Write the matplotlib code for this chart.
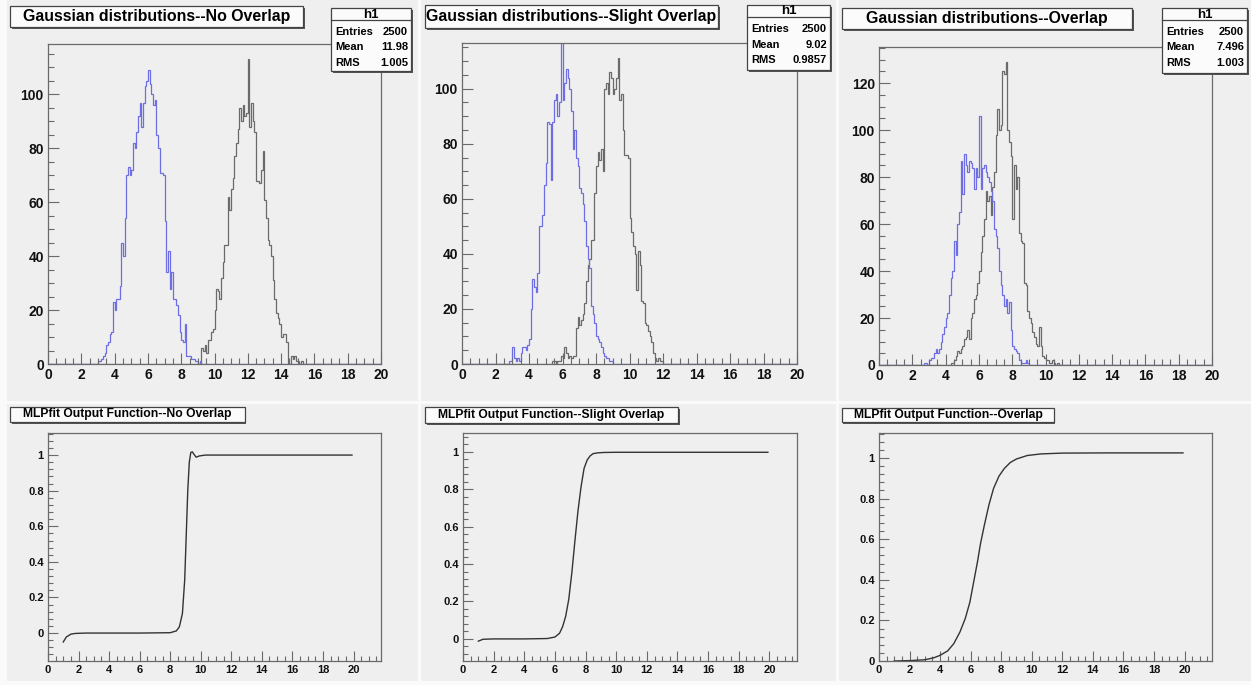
import numpy as np
import matplotlib
matplotlib.use('Agg')
import matplotlib.pyplot as plt
import matplotlib.patches as patches
from matplotlib.ticker import MultipleLocator, FuncFormatter

plt.rcParams.update({
    'font.family': ['Liberation Sans', 'DejaVu Sans'],
    'font.weight': 'bold',
})

W, H = 1251, 685
PAD = '#efefef'
BLUE = '#6d6de4'
GRAY = '#6a6a6a'
FRAME = '#6a6a6a'

# ── histogram counts, bin width 0.1 on [0, 20]; each list starts at *_start ──
no_blue_start = 3.0
no_blue = [1, 1, 2, 3, 4, 7, 8, 11, 12, 23,
           20, 24, 24, 29, 45, 40, 54, 70, 73, 70,
           72, 82, 80, 86, 92, 97, 88, 97, 103, 105,
           109, 104, 100, 96, 98, 85, 80, 71, 71, 70,
           53, 34, 42, 28, 34, 24, 24, 22, 18, 12,
           9, 8, 15, 3, 3, 3, 2, 2, 1, 1,
           0, 1]
no_gray_start = 9.2
no_gray = [6, 5, 7, 4, 9, 9, 12, 13,
           20, 28, 27, 24, 32, 38, 44, 44, 62, 57,
           65, 69, 77, 82, 87, 95, 90, 96, 92, 93,
           113, 88, 97, 90, 86, 68, 68, 67, 72, 79,
           61, 54, 46, 44, 40, 31, 24, 19, 17, 15,
           10, 11, 11, 8, 0, 0, 3, 2, 3, 1,
           1, 0, 1]

sl_blue_start = 2.8
sl_blue = [1, 1,
           6, 2, 1, 2, 1, 4, 6, 6, 5, 7,
           9, 20, 31, 28, 26, 33, 50, 50, 54, 65,
           73, 88, 87, 67, 88, 96, 98, 90, 95, 118,
           96, 102, 107, 104, 100, 92, 78, 85, 75, 72,
           64, 62, 58, 52, 43, 38, 35, 21, 18, 15,
           10, 9, 8, 6, 4, 3, 2, 2, 1, 1]
sl_gray_start = 5.4
sl_gray = [1, 1, 0, 1, 1, 3,
           2, 6, 4, 2, 3, 2, 3, 3, 13, 17,
           14, 16, 18, 22, 30, 36, 38, 45, 45, 62,
           72, 77, 74, 78, 70, 100, 102, 98, 106, 104,
           98, 100, 104, 111, 96, 98, 85, 76, 76, 75,
           53, 48, 43, 40, 27, 41, 36, 23, 22, 15,
           14, 12, 10, 8, 4, 2, 1, 2, 1, 1]

ov_blue_start = 2.7
ov_blue = [1, 1, 0,
           2, 3, 3, 5, 7, 5, 7, 10, 13, 16,
           20, 22, 30, 37, 40, 53, 47, 60, 65, 87,
           73, 90, 85, 82, 87, 86, 84, 75, 84, 80,
           106, 75, 84, 85, 82, 80, 78, 74, 70, 58,
           55, 50, 40, 34, 30, 25, 28, 22, 27, 15,
           8, 7, 6, 5, 2, 1, 1, 1, 2, 1]
ov_gray_start = 4.3
ov_gray = [1, 1, 2, 4, 6, 5, 7,
           8, 11, 12, 15, 11, 20, 22, 28, 30, 35,
           40, 48, 55, 62, 74, 70, 72, 64, 76, 82,
           98, 109, 100, 102, 125, 124, 129, 100, 95, 89,
           62, 85, 75, 80, 56, 53, 52, 35, 34, 23,
           20, 18, 14, 12, 9, 8, 16, 8, 4, 3,
           2, 2, 1, 1, 2, 1, 0, 1]

# stats box of h1 (the gray histogram)
stats = [("2500", "11.98", "1.005"),
         ("2500", "9.02", "0.9857"),
         ("2500", "7.496", "1.003")]

top_titles = ["Gaussian distributions--No Overlap",
              "Gaussian distributions--Slight Overlap",
              "Gaussian distributions--Overlap"]
bot_titles = ["MLPfit Output Function--No Overlap",
              "MLPfit Output Function--Slight Overlap",
              "MLPfit Output Function--Overlap"]

# ── MLPfit output curves ────────────────────────────────────────────────────
no_fx = [1.0, 1.2, 1.5, 1.8, 2.5, 4, 6, 8.0, 8.4, 8.6, 8.8, 8.95, 9.05, 9.15,
         9.25, 9.35, 9.45, 9.55, 9.7, 9.9, 10.3, 12, 16, 19.9]
no_fy = [-0.05, -0.022, -0.006, -0.002, 0, 0, 0, 0.002, 0.012, 0.035, 0.11,
         0.30, 0.55, 0.80, 0.96, 1.015, 1.018, 1.005, 0.988, 0.995, 1.0, 1.0,
         1.0, 1.0]
sl_fx = [1.0, 1.3, 2, 4, 5.5, 6.0, 6.3, 6.5, 6.7, 6.9, 7.1, 7.3, 7.5, 7.7,
         7.9, 8.1, 8.3, 8.5, 8.8, 9.2, 10, 14, 19.9]
sl_fy = [-0.012, -0.002, 0, 0, 0.002, 0.01, 0.03, 0.065, 0.12, 0.21, 0.35,
         0.52, 0.68, 0.81, 0.91, 0.955, 0.978, 0.99, 0.994, 0.996, 0.997,
         0.997, 0.997]
ov_fx = [1.0, 2.0, 3.0, 3.6, 4.0, 4.5, 4.9, 5.3, 5.65, 5.95, 6.2, 6.45, 6.65,
         6.9, 7.2, 7.5, 7.85, 8.2, 8.6, 9.0, 9.7, 10.6, 12.0, 15, 19.9]
ov_fy = [0.0, 0.002, 0.006, 0.016, 0.028, 0.05, 0.086, 0.143, 0.21, 0.29,
         0.39, 0.49, 0.58, 0.67, 0.77, 0.85, 0.91, 0.948, 0.978, 0.995, 1.012,
         1.02, 1.024, 1.025, 1.025]

edges = np.linspace(0, 20, 201)


def full(start, vals):
    c = np.zeros(200)
    i0 = int(round(start * 10))
    c[i0:i0 + len(vals)] = vals
    return c


fig = plt.figure(figsize=(W / 100, H / 100), dpi=100)
fig.patch.set_facecolor('#fafafa')


def fbox(l, t, r, b):
    return (l / W, 1 - b / H, (r - l) / W, (b - t) / H)


def rect(l, t, r, b, **kw):
    x, y, w, h = fbox(l, t, r, b)
    fig.add_artist(patches.Rectangle((x, y), w, h, transform=fig.transFigure, **kw))


def px_axes(l, t, r, b):
    ax = fig.add_axes(fbox(l, t, r, b))
    ax.set_facecolor(PAD)
    for s in ax.spines.values():
        s.set_color(FRAME); s.set_linewidth(0.9)
    ax.tick_params(which='both', direction='in', top=False, right=False,
                   color=FRAME, labelcolor='#111111', width=0.8)
    return ax


def shadow_box(l, t, r, b, sh=2):
    rect(l + sh, t + sh, r + sh, b + sh, facecolor='#555555', edgecolor='none', zorder=5)
    rect(l, t, r, b, facecolor='#fbfbfb', edgecolor='#444444', linewidth=0.9, zorder=6)


# pads
col_x = [(7, 418), (421, 836), (839, 1251)]
for (l, r) in col_x:
    rect(l, 0, r, 401, facecolor=PAD, edgecolor='none', zorder=-10)
    rect(l, 404, r, 681, facecolor=PAD, edgecolor='none', zorder=-10)

# ── top row: histograms ─────────────────────────────────────────────────────
top_frames = [(48, 44, 381, 364), (462, 43, 797, 364), (879, 47, 1212, 365)]
top_ymax = [118.7, 116.6, 135.4]
hists = [(no_gray_start, no_gray, no_blue_start, no_blue),
         (sl_gray_start, sl_gray, sl_blue_start, sl_blue),
         (ov_gray_start, ov_gray, ov_blue_start, ov_blue)]
title_boxes = [(10, 6, 303, 27), (425, 5, 718, 28), (842, 8, 1132, 29)]
stat_boxes = [(331, 8, 411, 71), (747, 5, 830, 70), (1162, 8, 1247, 73)]

for k in range(3):
    ax = px_axes(*top_frames[k])
    gs, gv, bs, bv = hists[k]
    ax.stairs(full(gs, gv), edges, color=GRAY, linewidth=0.9)
    ax.stairs(full(bs, bv), edges, color=BLUE, linewidth=0.9)
    ax.set_xlim(0, 20); ax.set_ylim(0, top_ymax[k])
    ax.xaxis.set_major_locator(MultipleLocator(2))
    ax.xaxis.set_minor_locator(MultipleLocator(0.5))
    ax.yaxis.set_major_locator(MultipleLocator(20))
    ax.yaxis.set_minor_locator(MultipleLocator(5))
    ax.tick_params(which='major', length=8, labelsize=10, pad=3)
    ax.tick_params(which='minor', length=4)

    l, t, r, b = title_boxes[k]
    shadow_box(l, t, r, b)
    fig.text((l + r) / 2 / W, 1 - (t + b) / 2 / H, top_titles[k], ha='center',
             va='center', fontsize=11.4, zorder=7)

    l, t, r, b = stat_boxes[k]
    shadow_box(l, t, r, b)
    sep = t + 12
    fig.add_artist(plt.Line2D([l / W, r / W], [1 - sep / H, 1 - sep / H],
                              transform=fig.transFigure, color='#444444',
                              linewidth=0.9, zorder=7))
    fig.text((l + r) / 2 / W, 1 - (t + 6.5) / H, "h1", ha='center', va='center',
             fontsize=9.5, zorder=7)
    for j, (lab, val) in enumerate(zip(["Entries", "Mean", "RMS"], stats[k])):
        yy = 1 - (sep + 12 + 15.5 * j) / H
        fig.text((l + 4) / W, yy, lab, ha='left', va='center', fontsize=8, zorder=7)
        fig.text((r - 3) / W, yy, val, ha='right', va='center', fontsize=8, zorder=7)

# ── bottom row: MLPfit outputs ──────────────────────────────────────────────
bot_frames = [(48, 433, 381, 661), (463, 433, 797, 661), (879, 433, 1212, 661)]
bot_ylim = [(-0.157, 1.124), (-0.118, 1.10), (0, 1.123)]
curves = [(no_fx, no_fy), (sl_fx, sl_fy), (ov_fx, ov_fy)]
btitle_boxes = [(10, 407, 245, 422), (425, 407, 678, 423), (842, 408, 1054, 422)]

fmt = FuncFormatter(lambda v, p: f"{round(v, 2):g}")
for k in range(3):
    ax = px_axes(*bot_frames[k])
    fx, fy = curves[k]
    ax.plot(fx, fy, color='#333333', linewidth=1.0)
    ax.set_xlim(0, 21.8); ax.set_ylim(*bot_ylim[k])
    ax.xaxis.set_major_locator(MultipleLocator(2))
    ax.xaxis.set_minor_locator(MultipleLocator(0.5))
    ax.yaxis.set_major_locator(MultipleLocator(0.2))
    ax.yaxis.set_minor_locator(MultipleLocator(0.04))
    ax.yaxis.set_major_formatter(fmt)
    ax.tick_params(which='major', length=7, labelsize=8, pad=3)
    ax.tick_params(which='minor', length=3.5)

    l, t, r, b = btitle_boxes[k]
    shadow_box(l, t, r, b, sh=1.5)
    fig.text((l + r) / 2 / W, 1 - (t + b) / 2 / H, bot_titles[k], ha='center',
             va='center', fontsize=8.7, zorder=7)

plt.savefig("out.png", dpi=100)
